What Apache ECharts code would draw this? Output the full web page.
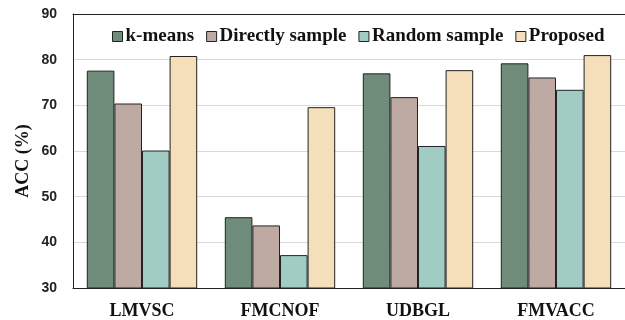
<!DOCTYPE html>
<html><head><meta charset="utf-8">
<script src="https://cdn.jsdelivr.net/npm/echarts@6/dist/echarts.min.js"></script>
<style>html,body{margin:0;padding:0;background:#fff}#c{width:625px;height:320px}</style>
</head><body><div id="c"></div>
<script>
const categories = ['LMVSC', 'FMCNOF', 'UDBGL', 'FMVACC'];
const seriesNames = ['k-means', 'Directly sample', 'Random sample', 'Proposed'];
const kmeans = [77.6, 45.5, 77.0, 79.2];
const directly = [70.4, 43.7, 71.8, 76.1];
const randomS = [60.1, 37.2, 61.1, 73.4];
const proposed = [80.8, 69.6, 77.7, 81.0];
const yTicks = [30, 40, 50, 60, 70, 80, 90];

const colors = ['#6f8b7a', '#bfaaa3', '#a0ccc3', '#f5dfbb'];
const values = [kmeans, directly, randomS, proposed];
const serif = '"Liberation Serif", "Times New Roman", serif';

const chart = echarts.init(document.getElementById('c'));
chart.setOption({
  animation: false,
  grid: {left: 73, right: -2, top: 14, bottom: 32},
  legend: {
    data: seriesNames.map(n => ({name: n, icon: 'rect'})), top: 22, left: 107, itemWidth: 10, itemHeight: 10, itemGap: 12,
    textStyle: {fontFamily: serif, fontWeight: 'bold', fontSize: 19, color: '#111', padding: [0,0,0,-2]},
    itemStyle: {borderColor: '#222', borderWidth: 1}
  },
  xAxis: [{
    type: 'category', data: categories,
    axisLine: {lineStyle: {color: '#222', width: 1}},
    axisTick: {show: false},
    axisLabel: {fontFamily: serif, fontWeight: 'bold', fontSize: 18, color: '#111', margin: 14}
  }, {
    type: 'category', data: categories, position: 'top',
    axisLine: {show: true, lineStyle: {color: '#222', width: 1}},
    axisTick: {show: false}, axisLabel: {show: false}, splitLine: {show: false}
  }],
  yAxis: {
    type: 'value', min: yTicks[0], max: yTicks[yTicks.length - 1], interval: 10,
    axisLine: {show: true, lineStyle: {color: '#222', width: 1}},
    axisTick: {show: false},
    axisLabel: {fontFamily: '"Liberation Sans", Arial, sans-serif', fontWeight: 'bold', fontSize: 14, color: '#222', margin: 16},
    splitLine: {lineStyle: {color: '#d9d9d9', width: 1}}
  },
  graphic: [{
    type: 'text', x: 23, y: 161, rotation: Math.PI / 2,
    style: {text: 'ACC (%)', font: 'bold 18px ' + serif, fill: '#111', textAlign: 'center', textVerticalAlign: 'middle'}
  }],
  series: seriesNames.map((n, i) => ({
    name: n, type: 'bar', data: values[i], barGap: '0%', barCategoryGap: '20%',
    itemStyle: {color: colors[i], borderColor: '#222', borderWidth: 1}
  }))
});
</script></body></html>
